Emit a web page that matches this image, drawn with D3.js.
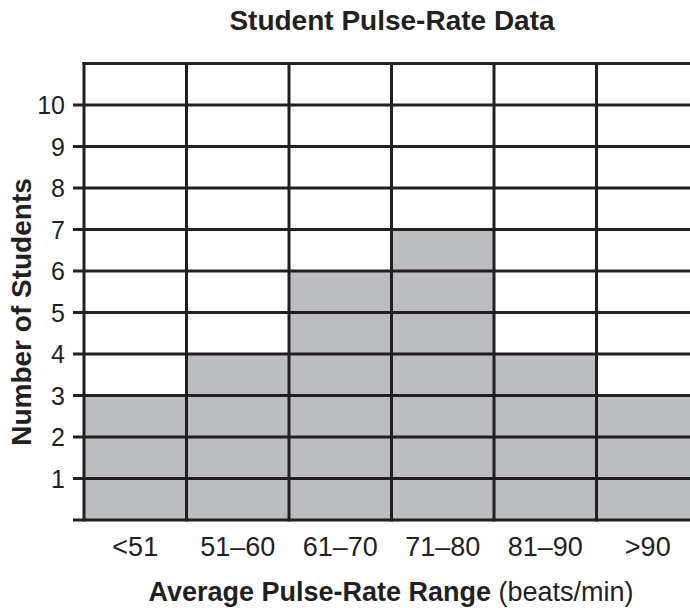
<!DOCTYPE html>
<html>
<head>
<meta charset="utf-8">
<script src="https://cdn.jsdelivr.net/npm/d3@7"></script>
<style>
  html, body { margin: 0; padding: 0; background: #fff; }
  svg { display: block; font-family: "Liberation Sans", Arial, Helvetica, sans-serif; }
</style>
</head>
<body>
<div id="chart"></div>
<script>
const categories = ['<51', '51\u201360', '61\u201370', '71\u201380', '81\u201390', '>90'];
const counts = [3, 4, 6, 7, 4, 3];
const yTicks = [1, 2, 3, 4, 5, 6, 7, 8, 9, 10];

const width = 690, height = 608;
const margin = { left: 84, top: 63.5, right: -9, bottom: 88 };
const ink = '#231f20';

const svg = d3.select('#chart').append('svg')
    .attr('width', width)
    .attr('height', height);

const x = d3.scaleBand()
    .domain(categories)
    .range([margin.left, width - margin.right])
    .padding(0);

const y = d3.scaleLinear()
    .domain([0, 11])
    .range([height - margin.bottom, margin.top]);

// bars
svg.append('g')
    .selectAll('rect')
    .data(counts)
    .join('rect')
    .attr('x', (d, i) => x(categories[i]))
    .attr('y', d => y(d))
    .attr('width', x.bandwidth())
    .attr('height', d => y(0) - y(d))
    .style('fill', '#bcbdc0');

// horizontal grid, extended left as tick marks
svg.append('g')
    .selectAll('line')
    .data([0, ...yTicks, 11])
    .join('line')
    .attr('x1', d => d === 11 ? margin.left - 1.5 : margin.left - 11)
    .attr('x2', width + 10)
    .attr('y1', d => y(d))
    .attr('y2', d => y(d))
    .style('stroke', ink)
    .style('stroke-width', '3px');

// vertical bin lines
const edges = categories.map(c => x(c));
svg.append('g')
    .selectAll('line')
    .data(edges)
    .join('line')
    .attr('x1', d => d)
    .attr('x2', d => d)
    .attr('y1', y(11) - 1.5)
    .attr('y2', y(0) + 1.5)
    .style('stroke', ink)
    .style('stroke-width', '3px');

// y tick labels
svg.append('g')
    .selectAll('text')
    .data(yTicks)
    .join('text')
    .attr('x', margin.left - 19)
    .attr('y', d => y(d))
    .attr('dy', '0.36em')
    .attr('text-anchor', 'end')
    .style('font-size', '25px')
    .style('fill', ink)
    .text(d => d);

// x tick labels
svg.append('g')
    .selectAll('text')
    .data(categories)
    .join('text')
    .attr('x', d => x(d) + x.bandwidth() / 2)
    .attr('y', 556)
    .attr('text-anchor', 'middle')
    .style('font-size', '27px')
    .style('fill', ink)
    .text(d => d);

// title
svg.append('text')
    .attr('x', 392)
    .attr('y', 30)
    .attr('text-anchor', 'middle')
    .style('font-size', '28px')
    .style('font-weight', 'bold')
    .style('fill', ink)
    .text('Student Pulse-Rate Data');

// x axis title
const xTitle = svg.append('text')
    .attr('x', 391)
    .attr('y', 601)
    .attr('text-anchor', 'middle')
    .style('font-size', '27px')
    .style('fill', ink);
xTitle.append('tspan').style('font-weight', 'bold').text('Average Pulse-Rate Range');
xTitle.append('tspan').text(' (beats/min)');

// y axis title
svg.append('text')
    .attr('transform', 'translate(31,312) rotate(-90)')
    .attr('text-anchor', 'middle')
    .style('font-size', '28px')
    .style('font-weight', 'bold')
    .style('fill', ink)
    .text('Number of Students');
</script>
</body>
</html>
